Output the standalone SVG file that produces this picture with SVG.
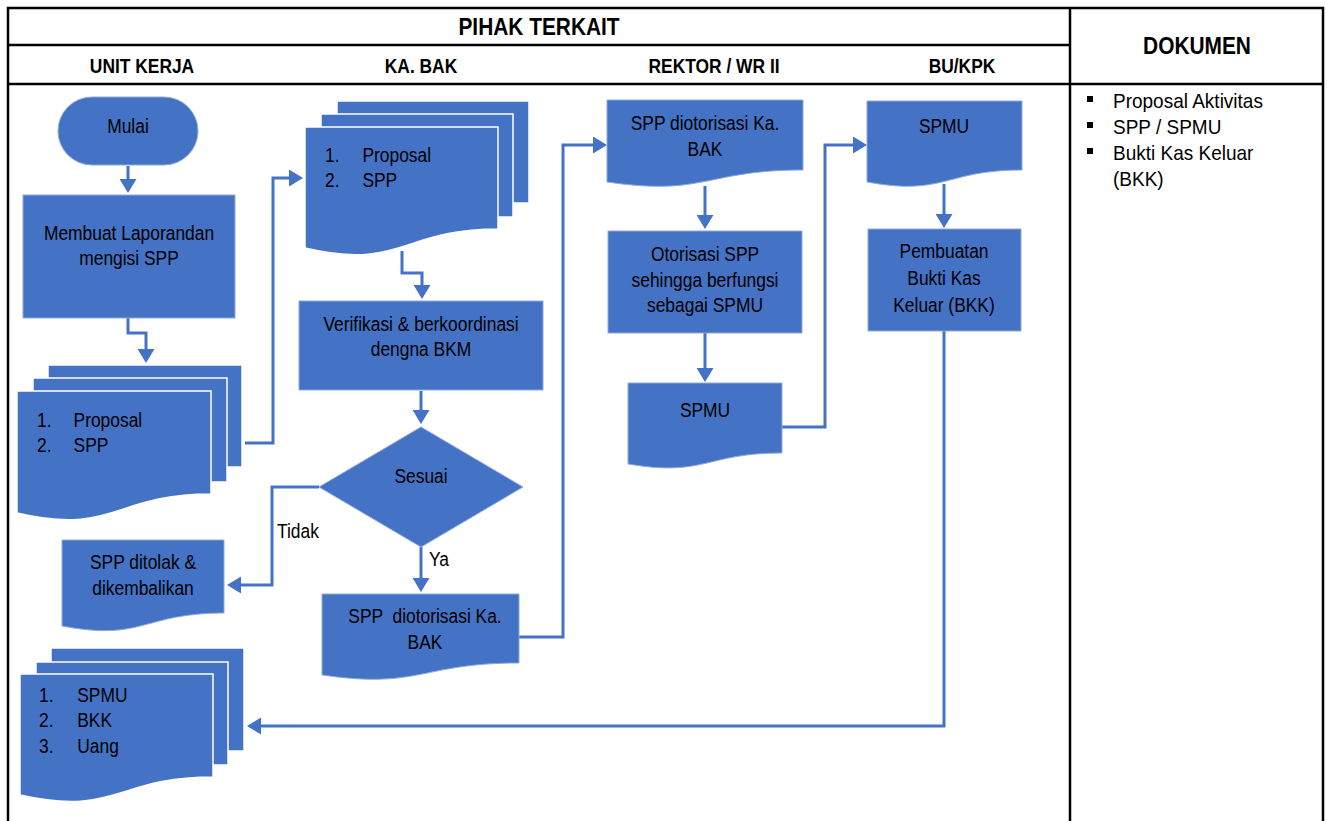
<svg xmlns="http://www.w3.org/2000/svg" width="1327" height="821" viewBox="0 0 1327 821">
<defs>
<marker id="ah" viewBox="0 0 14 17" refX="4" refY="8.5" markerWidth="14" markerHeight="17" markerUnits="userSpaceOnUse" orient="auto"><path d="M0,0 L14,8.5 L0,17 Z" fill="#4472C4"/></marker>
</defs>
<style>
.grid{stroke:#000;stroke-width:2.5;fill:none}
.s{fill:#4472C4;stroke:#8eaadb;stroke-width:1}
.l{fill:#4472C4;stroke:#fff;stroke-width:1.5}
.c{fill:none;stroke:#4472C4;stroke-width:3;marker-end:url(#ah)}
.t{font-family:"Liberation Sans",Arial,sans-serif;font-size:20px;fill:#000}
.h{font-family:"Liberation Sans",Arial,sans-serif;font-weight:bold;fill:#000}
.pre{white-space:pre}
</style>
<rect x="0" y="0" width="1327" height="821" fill="#fff"/>

<g id="table">
<rect x="8" y="8" width="1315" height="830" class="grid"/>
<line x1="8" y1="45" x2="1070" y2="45" class="grid"/>
<line x1="8" y1="84" x2="1323" y2="84" class="grid"/>
<line x1="1070" y1="8" x2="1070" y2="821" class="grid"/>
<text class="h" font-size="24" text-anchor="middle" transform="translate(539,35) scale(0.87,1)">PIHAK TERKAIT</text>
<text class="h" font-size="20" text-anchor="middle" transform="translate(142,73) scale(0.87,1)">UNIT KERJA</text>
<text class="h" font-size="20" text-anchor="middle" transform="translate(421,73) scale(0.87,1)">KA. BAK</text>
<text class="h" font-size="20" text-anchor="middle" transform="translate(714,73) scale(0.87,1)">REKTOR / WR II</text>
<text class="h" font-size="20" text-anchor="middle" transform="translate(962,73) scale(0.87,1)">BU/KPK</text>
<text class="h" font-size="24" text-anchor="middle" transform="translate(1197,54) scale(0.87,1)">DOKUMEN</text>
</g>

<g id="dokumen-list">
<rect x="1087" y="96" width="6" height="6" fill="#000"/>
<rect x="1087" y="122" width="6" height="6" fill="#000"/>
<rect x="1087" y="148" width="6" height="6" fill="#000"/>
<text class="t" font-size="21" transform="translate(1113,108) scale(0.95,1)">Proposal Aktivitas</text>
<text class="t" font-size="21" transform="translate(1113,134) scale(0.95,1)">SPP / SPMU</text>
<text class="t" font-size="21" transform="translate(1113,160) scale(0.95,1)">Bukti Kas Keluar</text>
<text class="t" font-size="21" transform="translate(1113,186) scale(0.95,1)">(BKK)</text>
</g>

<g id="connectors">
<path class="c" d="M128,166 V183"/>
<path class="c" d="M128,318 V333 H146 V353"/>
<path class="c" d="M245,443 H273 V178 H293"/>
<path class="c" d="M402,251 V273 H422 V289"/>
<path class="c" d="M421,391 V414"/>
<path class="c" d="M319,487 H272 V585 H237"/>
<path class="c" d="M421,547 V582"/>
<path class="c" d="M519,637 H563 V145 H597"/>
<path class="c" d="M705,186 V219"/>
<path class="c" d="M705,333 V372"/>
<path class="c" d="M782,427 H825 V145 H857"/>
<path class="c" d="M944,184 V218"/>
<path class="c" d="M944,331 V726 H257"/>
<text class="t" transform="translate(277,538) scale(0.87,1)">Tidak</text>
<text class="t" transform="translate(429,566) scale(0.87,1)">Ya</text>
</g>

<g id="mulai">
<rect class="s" x="58" y="97" width="140" height="68" rx="34"/>
<text class="t" text-anchor="middle" transform="translate(128,133) scale(0.87,1)">Mulai</text>
</g>

<g id="membuat">
<rect class="s" x="23" y="195" width="212" height="123"/>
<text class="t" text-anchor="middle" transform="translate(129,240) scale(0.87,1)"><tspan x="0" y="0">Membuat Laporandan</tspan><tspan x="0" y="25">mengisi SPP</tspan></text>
</g>

<g id="dok-proposal-spp-unit">
<rect class="l" x="48" y="365" width="194" height="102"/>
<rect class="l" x="33" y="378" width="194" height="104"/>
<path class="l" d="M17,391 H211 V494 C114,494 114,535.8 17,513 Z"/>
<text class="t" transform="translate(37,427) scale(0.87,1)"><tspan x="0" y="0">1.</tspan><tspan x="42" y="0">Proposal</tspan><tspan x="0" y="25">2.</tspan><tspan x="42" y="25">SPP</tspan></text>
</g>

<g id="dok-proposal-spp-bak">
<rect class="l" x="337" y="101" width="192" height="102"/>
<rect class="l" x="321" y="114" width="192" height="103"/>
<path class="l" d="M305,127 H498 V229 C401.5,229 401.5,270.8 305,248 Z"/>
<text class="t" transform="translate(325,162) scale(0.87,1)"><tspan x="0" y="0">1.</tspan><tspan x="43" y="0">Proposal</tspan><tspan x="0" y="25">2.</tspan><tspan x="43" y="25">SPP</tspan></text>
</g>

<g id="verifikasi">
<rect class="s" x="299" y="301" width="244" height="89"/>
<text class="t" text-anchor="middle" transform="translate(421,331) scale(0.87,1)"><tspan x="0" y="0">Verifikasi &amp; berkoordinasi</tspan><tspan x="0" y="25">dengna BKM</tspan></text>
</g>

<g id="sesuai">
<polygon class="s" points="421,427 523,487 421,547 319,487"/>
<text class="t" text-anchor="middle" transform="translate(421,483) scale(0.87,1)">Sesuai</text>
</g>

<g id="spp-ditolak">
<path class="s" d="M62,540 H224 V613 C143,613 143,641.6 62,626 Z"/>
<text class="t" text-anchor="middle" transform="translate(143,569) scale(0.87,1)"><tspan x="0" y="0">SPP ditolak &amp;</tspan><tspan x="0" y="26">dikembalikan</tspan></text>
</g>

<g id="spp-diotorisasi-bak">
<path class="s" d="M322,594 H519 V663 C420.5,663 420.5,689.4 322,675 Z"/>
<text class="t pre" text-anchor="middle" transform="translate(425,623) scale(0.87,1)"><tspan x="0" y="0">SPP  diotorisasi Ka.</tspan><tspan x="0" y="26">BAK</tspan></text>
</g>

<g id="spp-diotorisasi-rektor">
<path class="s" d="M607,100 H803 V170 C705,170 705,196.4 607,182 Z"/>
<text class="t" text-anchor="middle" transform="translate(705,130) scale(0.87,1)"><tspan x="0" y="0">SPP diotorisasi Ka.</tspan><tspan x="0" y="26">BAK</tspan></text>
</g>

<g id="otorisasi">
<rect class="s" x="608" y="231" width="194" height="102"/>
<text class="t" text-anchor="middle" transform="translate(705,261) scale(0.87,1)"><tspan x="0" y="0">Otorisasi SPP</tspan><tspan x="0" y="26">sehingga berfungsi</tspan><tspan x="0" y="51">sebagai SPMU</tspan></text>
</g>

<g id="spmu-rektor">
<path class="s" d="M628,383 H782 V453 C705,453 705,477.2 628,464 Z"/>
<text class="t" text-anchor="middle" transform="translate(705,417) scale(0.87,1)">SPMU</text>
</g>

<g id="spmu-bu">
<path class="s" d="M867,101 H1022 V170 C944.5,170 944.5,196.4 867,182 Z"/>
<text class="t" text-anchor="middle" transform="translate(944,133) scale(0.87,1)">SPMU</text>
</g>

<g id="pembuatan-bkk">
<rect class="s" x="868" y="229" width="153" height="102"/>
<text class="t" text-anchor="middle" transform="translate(944,258) scale(0.87,1)"><tspan x="0" y="0">Pembuatan</tspan><tspan x="0" y="27">Bukti Kas</tspan><tspan x="0" y="54">Keluar (BKK)</tspan></text>
</g>

<g id="dok-spmu-bkk-uang">
<rect class="l" x="51" y="648" width="193" height="103"/>
<rect class="l" x="36" y="662" width="192" height="103"/>
<path class="l" d="M20,674 H213 V777 C116.5,777 116.5,816.6 20,795 Z"/>
<text class="t" transform="translate(39,702) scale(0.87,1)"><tspan x="0" y="0">1.</tspan><tspan x="44" y="0">SPMU</tspan><tspan x="0" y="25.5">2.</tspan><tspan x="44" y="25.5">BKK</tspan><tspan x="0" y="51">3.</tspan><tspan x="44" y="51">Uang</tspan></text>
</g>
</svg>
